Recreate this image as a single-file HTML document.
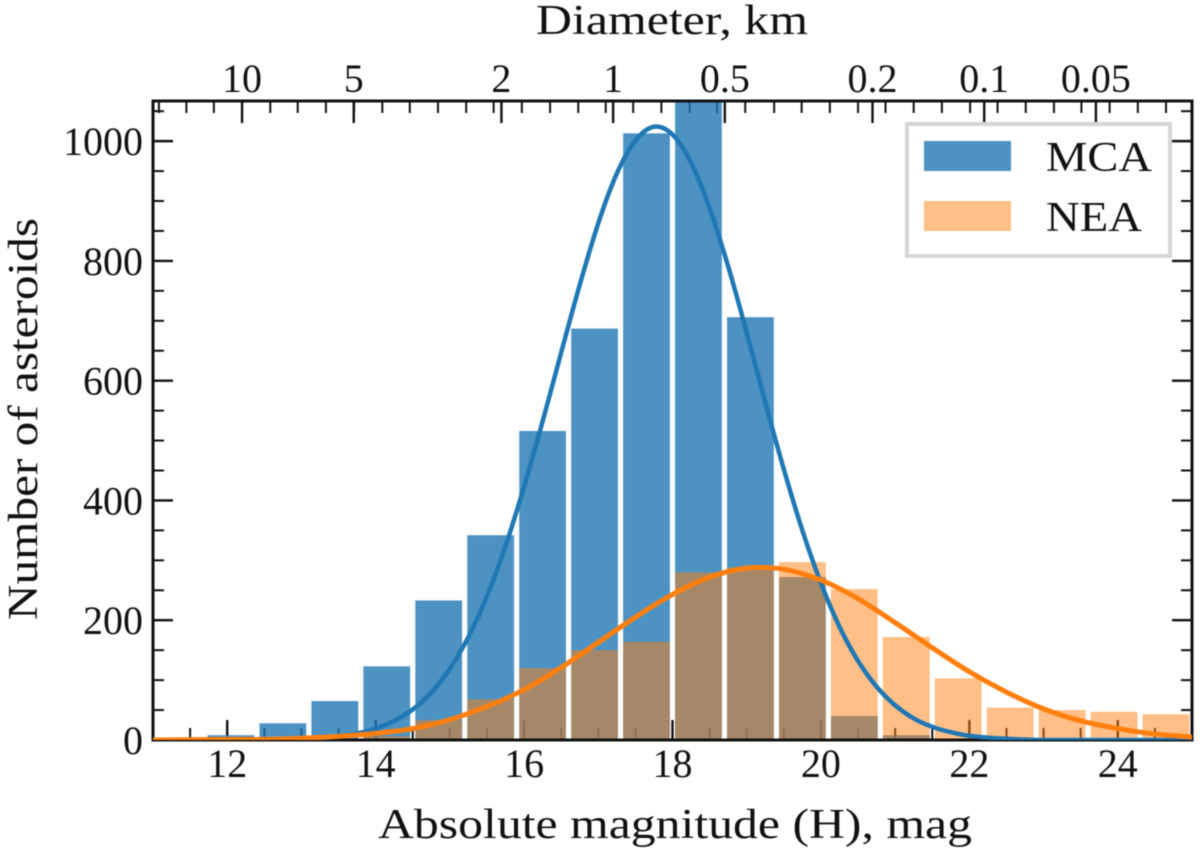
<!DOCTYPE html>
<html lang="en">
<head>
<meta charset="utf-8">
<title>Asteroid absolute magnitude histogram</title>
<style>
html,body{margin:0;padding:0;background:#fff;}
svg{display:block;filter:blur(0.5px);}
text{font-family:"Liberation Serif",serif;fill:#111;}
</style>
</head>
<body>
<svg id="chart" xmlns="http://www.w3.org/2000/svg" width="1200" height="857" viewBox="0 0 1200 857">
  <defs><clipPath id="plot-clip"><rect x="153" y="101" width="1039" height="639"></rect></clipPath></defs>
</svg>
<script>
// Histogram data
var binStart = 11.7;
var binWidth = 0.7;
var mcaCounts = [8, 28, 65, 123, 233, 342, 516, 687, 1013, 1090, 706, 272, 40, 8, 1, 1, 0, 0, 0];
var neaCounts = [0, 0, 2, 6, 33, 68, 120, 150, 164, 280, 288, 297, 252, 172, 103, 54, 50, 47, 43];

// Fitted curves
var mcaCurveH = [11, 12, 13, 13.25, 13.5, 13.75, 14, 14.25, 14.5, 14.75, 15, 15.25, 15.5, 15.75, 16, 16.25, 16.5, 16.75, 17, 17.25, 17.5, 17.75, 18, 18.25, 18.5, 18.75, 19, 19.25, 19.5, 19.75, 20, 20.25, 20.5, 20.75, 21, 21.25, 21.5, 21.75, 22, 22.5, 23, 24, 25];
var mcaCurveN = [0, 0, 2, 3, 6, 11, 19, 32, 51, 79, 119, 172, 240, 324, 423, 532, 647, 760, 863, 946, 1001, 1024, 1011, 964, 888, 791, 680, 564, 452, 350, 262, 189, 132, 89, 58, 36, 22, 13, 7, 2, 0, 0, 0];
var neaCurveH = [11, 12, 12.5, 13, 13.5, 14, 14.5, 15, 15.5, 16, 16.5, 17, 17.5, 18, 18.5, 19, 19.5, 20, 20.5, 21, 21.5, 22, 22.5, 23, 23.5, 24, 24.5, 25];
var neaCurveN = [0, 1, 1, 3, 6, 11, 19, 34, 56, 84, 121, 163, 205, 243, 272, 287, 285, 267, 236, 196, 154, 114, 80, 52, 32, 19, 10, 5];

// Tick values and labels
var xTickValues = [12, 14, 16, 18, 20, 22, 24];
var xMinorValues = [11.5, 12.5, 13, 13.5, 14.5, 15, 15.5, 16.5, 17, 17.5, 18.5, 19, 19.5, 20.5, 21, 21.5, 22.5, 23, 23.5, 24.5];
var yTickValues = [0, 200, 400, 600, 800, 1000];
var yMinorValues = [50, 100, 150, 250, 300, 350, 450, 500, 550, 650, 700, 750, 850, 900, 950, 1050];
var topTickDiameters = [10, 5, 2, 1, 0.5, 0.2, 0.1, 0.05];
var topMinorH = [11.08, 11.45, 11.82, 12.2, 12.58, 12.95, 13.33, 13.71, 14.09, 14.46, 14.84, 15.22, 15.59, 15.97, 16.35, 16.73, 17.1, 17.47, 17.85, 18.23, 18.6, 18.98, 19.37, 19.74, 20.12, 20.5, 20.87, 21.25, 21.63, 22.01, 22.38, 22.76, 23.14, 23.51, 23.89, 24.27, 24.65];

var L = 153, R = 1192, T = 101, B = 740;
var xMin = 11, xMax = 25, yMax = 1067;
var NS = 'http://www.w3.org/2000/svg';
var svg = document.getElementById('chart');

function xPos(h) { return L + (h - xMin) / (xMax - xMin) * (R - L); }
function yPos(n) { return B - n / yMax * (B - T); }
function topPos(d) { return xPos(17.2 - 5 * (Math.log(d) / Math.LN10)); }

function make(tag, attrs, parent) {
  var el = document.createElementNS(NS, tag);
  for (var k in attrs) { el.setAttribute(k, attrs[k]); }
  (parent || svg).appendChild(el);
  return el;
}
function tickLine(x1, y1, x2, y2, w, name) {
  var el = make('line', {x1: x1, y1: y1, x2: x2, y2: y2, stroke: '#111', 'stroke-width': w});
  
  
  return el;
}
function label(str, x, y, size, anchor, len, name) {
  var el = make('text', {x: x, y: y, 'font-size': size, 'text-anchor': anchor});
  if (len) { el.setAttribute('textLength', len); el.setAttribute('lengthAdjust', 'spacingAndGlyphs'); }
  el.textContent = str;
  
  
  return el;
}
function smoothPath(hs, ns) {
  var px = hs.map(xPos), py = ns.map(yPos);
  var d = 'M' + px[0].toFixed(2) + ' ' + py[0].toFixed(2);
  for (var i = 0; i < px.length - 1; i++) {
    var i0 = Math.max(i - 1, 0), i3 = Math.min(i + 2, px.length - 1);
    var h = px[i + 1] - px[i];
    var m1 = (py[i + 1] - py[i0]) / (px[i + 1] - px[i0]);
    var m2 = (py[i3] - py[i]) / (px[i3] - px[i]);
    var c1x = px[i] + h / 3, c1y = py[i] + m1 * h / 3;
    var c2x = px[i + 1] - h / 3, c2y = py[i + 1] - m2 * h / 3;
    c1y = Math.min(c1y, B); c2y = Math.min(c2y, B);
    d += 'C' + c1x.toFixed(2) + ' ' + c1y.toFixed(2) + ' ' + c2x.toFixed(2) + ' ' + c2y.toFixed(2) + ' ' + px[i + 1].toFixed(2) + ' ' + py[i + 1].toFixed(2);
  }
  return d;
}

// Ticks sit beneath the translucent bars
xTickValues.forEach(function (v) { tickLine(xPos(v), B, xPos(v), B - 20, 2.4, 'x-major-tick'); });
xMinorValues.forEach(function (v) { tickLine(xPos(v), B, xPos(v), B - 12, 2, 'x-minor-tick'); });
yTickValues.forEach(function (v) {
  tickLine(L, yPos(v), L + 20, yPos(v), 2.4, 'y-major-tick-left');
  tickLine(R, yPos(v), R - 20, yPos(v), 2.4, 'y-major-tick-right');
});
yMinorValues.forEach(function (v) {
  tickLine(L, yPos(v), L + 11, yPos(v), 2, 'y-minor-tick-left');
  tickLine(R, yPos(v), R - 11, yPos(v), 2, 'y-minor-tick-right');
});
topTickDiameters.forEach(function (d) { tickLine(topPos(d), T, topPos(d), T + 22, 2.4, 'top-major-tick'); });
topMinorH.forEach(function (h) { tickLine(xPos(h), T, xPos(h), T + 12, 2, 'top-minor-tick'); });

// Bars
var barGroup = make('g', {'clip-path': 'url(#plot-clip)'});


function drawBars(counts, color, opacity, name) {
  counts.forEach(function (n, i) {
    if (n <= 0) { return; }
    var left = binStart + i * binWidth + binWidth * 0.05;
    var right = binStart + (i + 1) * binWidth - binWidth * 0.05;
    var bar = make('rect', {
      x: xPos(left), y: yPos(n), width: xPos(right) - xPos(left), height: B - yPos(n),
      fill: color, 'fill-opacity': opacity
    }, barGroup);
    
    
  });
}
drawBars(mcaCounts, '#1f77b4', 0.8, 'mca-bar');
drawBars(neaCounts, '#ff7f0e', 0.5, 'nea-bar');

// Axes frame
var frame = make('rect', {x: L, y: T, width: R - L, height: B - T, fill: 'none', stroke: '#111', 'stroke-width': 3});



// Curves
var curveGroup = make('g', {'clip-path': 'url(#plot-clip)', fill: 'none', 'stroke-linejoin': 'round'});


var mcaCurve = make('path', {d: smoothPath(mcaCurveH, mcaCurveN), stroke: '#1f77b4', 'stroke-width': 4.5}, curveGroup);


var neaCurve = make('path', {d: smoothPath(neaCurveH, neaCurveN), stroke: '#ff7f0e', 'stroke-width': 5}, curveGroup);



// Tick labels
xTickValues.forEach(function (v) { label(String(v), xPos(v), 777, 40, 'middle', 0, 'x-tick-label'); });
yTickValues.forEach(function (v) { label(String(v), 143, yPos(v) + 14, 40, 'end', 0, 'y-tick-label'); });
topTickDiameters.forEach(function (d) { label(String(d), topPos(d), 92, 40, 'middle', 0, 'top-tick-label'); });

// Axis titles
label('Absolute magnitude (H), mag', 378, 838, 42, 'start', 594, 'x-axis-title');
label('Diameter, km', 536, 34, 42, 'start', 272, 'top-axis-title');
var yTitle = label('Number of asteroids', 0, 0, 42, 'start', 402, 'y-axis-title');
yTitle.setAttribute('transform', 'translate(37 620) rotate(-90)');

// Legend
var legend = make('g', {});


var legendBox = make('rect', {x: 907, y: 124, width: 263, height: 132, fill: '#fff', 'fill-opacity': 0.8, stroke: '#d6d6d6', 'stroke-width': 4}, legend);


var swatchA = make('rect', {x: 924, y: 141, width: 87, height: 30, fill: '#1f77b4', 'fill-opacity': 0.8}, legend);


var swatchB = make('rect', {x: 924, y: 201, width: 87, height: 30, fill: '#ff7f0e', 'fill-opacity': 0.5}, legend);


legend.appendChild(label('MCA', 1046, 171, 42, 'start', 106, 'legend-label-mca'));
legend.appendChild(label('NEA', 1046, 231, 42, 'start', 96, 'legend-label-nea'));
</script>
</body>
</html>
